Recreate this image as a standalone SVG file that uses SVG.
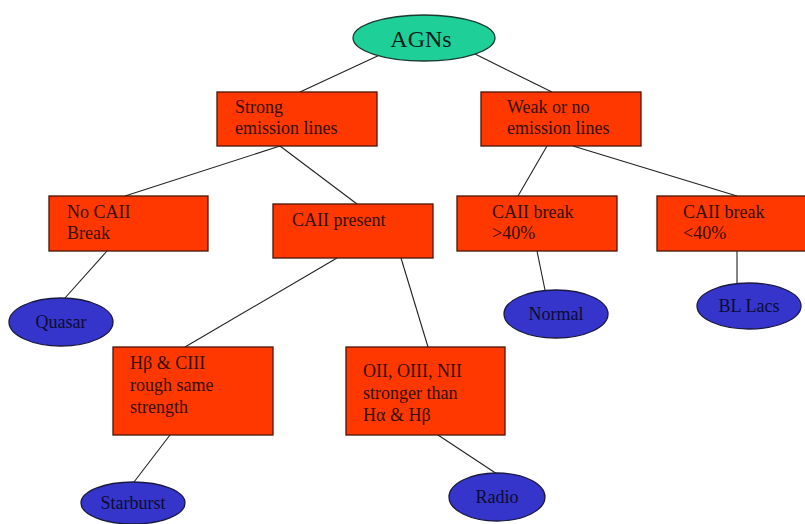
<svg xmlns="http://www.w3.org/2000/svg" width="805" height="524" viewBox="0 0 805 524">
  <style>
    .box { fill: #ff3800; stroke: #4a1505; stroke-width: 1.3; }
    .leaf { fill: #3535cc; stroke: #1a1a40; stroke-width: 1.3; }
    .root { fill: #1fcf98; stroke: #1a3a30; stroke-width: 1.3; }
    .btxt { font-family: "Liberation Serif", "DejaVu Serif", serif; font-size: 18px; fill: #331005; }
    .ltxt { font-family: "Liberation Serif", "DejaVu Serif", serif; font-size: 18px; fill: #0c0c30; text-anchor: middle; }
    .rtxt { font-family: "Liberation Serif", "DejaVu Serif", serif; font-size: 24px; fill: #0a2018; text-anchor: middle; }
    .edge { stroke: #222; stroke-width: 1.1; fill: none; }
  </style>
  <rect width="805" height="524" fill="#ffffff"/>

  <g id="connectors">
    <line class="edge" x1="384" y1="53" x2="300" y2="92"/>
    <line class="edge" x1="473" y1="53" x2="552" y2="92"/>
    <line class="edge" x1="280" y1="146" x2="125" y2="196"/>
    <line class="edge" x1="280" y1="146" x2="357" y2="204"/>
    <line class="edge" x1="547" y1="146" x2="518" y2="196"/>
    <line class="edge" x1="573" y1="146" x2="737" y2="196"/>
    <line class="edge" x1="107" y1="251" x2="65" y2="298"/>
    <line class="edge" x1="337" y1="258" x2="185" y2="347"/>
    <line class="edge" x1="401" y1="258" x2="428" y2="347"/>
    <line class="edge" x1="537" y1="251" x2="545" y2="290"/>
    <line class="edge" x1="737" y1="251" x2="737" y2="283"/>
    <line class="edge" x1="170" y1="435" x2="134" y2="482"/>
    <line class="edge" x1="438" y1="435" x2="497" y2="474"/>
  </g>

  <g id="agns">
    <ellipse class="root" cx="424" cy="38" rx="71" ry="23"/>
    <text class="rtxt" x="421" y="47">AGNs</text>
  </g>

  <g id="strong">
    <rect class="box" x="217" y="92" width="160" height="54"/>
    <text class="btxt" x="235" y="113">Strong</text>
    <text class="btxt" x="235" y="134">emission lines</text>
  </g>

  <g id="weak">
    <rect class="box" x="481" y="92" width="160" height="54"/>
    <text class="btxt" x="507" y="113">Weak or no</text>
    <text class="btxt" x="507" y="134">emission lines</text>
  </g>

  <g id="no-caii">
    <rect class="box" x="49" y="196" width="159" height="55"/>
    <text class="btxt" x="67" y="218">No CAII</text>
    <text class="btxt" x="67" y="239">Break</text>
  </g>

  <g id="caii-present">
    <rect class="box" x="273" y="204" width="160" height="54"/>
    <text class="btxt" x="292" y="226">CAII present</text>
  </g>

  <g id="break-gt40">
    <rect class="box" x="457" y="196" width="160" height="55"/>
    <text class="btxt" x="492" y="218">CAII break</text>
    <text class="btxt" x="492" y="239">&gt;40%</text>
  </g>

  <g id="break-lt40">
    <rect class="box" x="657" y="196" width="160" height="55"/>
    <text class="btxt" x="683" y="218">CAII break</text>
    <text class="btxt" x="683" y="239">&lt;40%</text>
  </g>

  <g id="hbeta-ciii">
    <rect class="box" x="113" y="347" width="160" height="88"/>
    <text class="btxt" x="130" y="369">Hβ &amp; CIII</text>
    <text class="btxt" x="130" y="391">rough same</text>
    <text class="btxt" x="130" y="413">strength</text>
  </g>

  <g id="forbidden-lines">
    <rect class="box" x="346" y="347" width="159" height="88"/>
    <text class="btxt" x="363" y="377">OII, OIII, NII</text>
    <text class="btxt" x="363" y="399">stronger than</text>
    <text class="btxt" x="363" y="421">Hα &amp; Hβ</text>
  </g>

  <g id="quasar">
    <ellipse class="leaf" cx="61" cy="322" rx="52" ry="24"/>
    <text class="ltxt" x="61" y="328">Quasar</text>
  </g>

  <g id="normal">
    <ellipse class="leaf" cx="556" cy="314" rx="52" ry="24"/>
    <text class="ltxt" x="556" y="320">Normal</text>
  </g>

  <g id="bl-lacs">
    <ellipse class="leaf" cx="749" cy="306" rx="52" ry="23"/>
    <text class="ltxt" x="749" y="312">BL Lacs</text>
  </g>

  <g id="starburst">
    <ellipse class="leaf" cx="133" cy="503" rx="52" ry="21"/>
    <text class="ltxt" x="133" y="509">Starburst</text>
  </g>

  <g id="radio">
    <ellipse class="leaf" cx="497" cy="497" rx="48" ry="24"/>
    <text class="ltxt" x="497" y="503">Radio</text>
  </g>
</svg>
